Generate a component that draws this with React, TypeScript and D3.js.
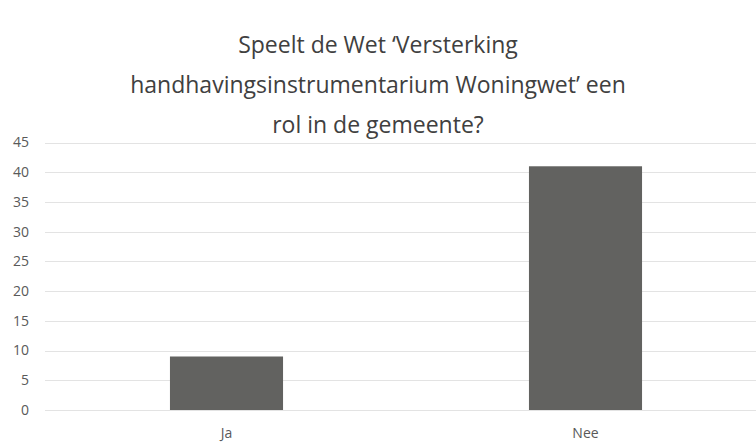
import React from 'react';
import * as d3 from 'd3';

const categories = ['Ja', 'Nee'];
const values = [9, 41];
const yTicks = [0, 5, 10, 15, 20, 25, 30, 35, 40, 45];
const titleLines = [
  'Speelt de Wet \u2018Versterking',
  'handhavingsinstrumentarium Woningwet\u2019 een',
  'rol in de gemeente?'
];

const W = 756;
const H = 444;
const font = '"Open Sans", "Noto Sans", sans-serif';

export default function App() {
  const x = d3.scaleBand<string>()
    .domain(categories)
    .range([47, 765])
    .paddingInner(0.685)
    .paddingOuter(0.3425);

  const y = d3.scaleLinear().domain([0, 45]).range([410, 142.5]);

  return (
    <svg width={W} height={H} style={{ position: 'absolute', left: 0, top: 0, background: '#fff' }}>
      {titleLines.map((t, i) => (
        <text key={i} x={378} y={45 + i * 40} dy="0.35em" textAnchor="middle"
          fontFamily={font} fontSize={23} fill="#404040">{t}</text>
      ))}
      {yTicks.map((t) => (
        <g key={t}>
          <line x1={45} x2={W} y1={Math.round(y(t)) + 0.5} y2={Math.round(y(t)) + 0.5}
            stroke="#e3e3e3" strokeWidth={1} />
          <text x={29} y={y(t)} dy="0.35em" textAnchor="end"
            fontFamily={font} fontSize={14} fill="#595959">{t}</text>
        </g>
      ))}
      {categories.map((c, i) => (
        <g key={c}>
          <rect x={x(c)} y={y(values[i])} width={x.bandwidth()} height={y(0) - y(values[i])}
            fill="#626260" />
          <text x={(x(c) as number) + x.bandwidth() / 2} y={438} textAnchor="middle"
            fontFamily={font} fontSize={14} fill="#595959">{c}</text>
        </g>
      ))}
    </svg>
  );
}
